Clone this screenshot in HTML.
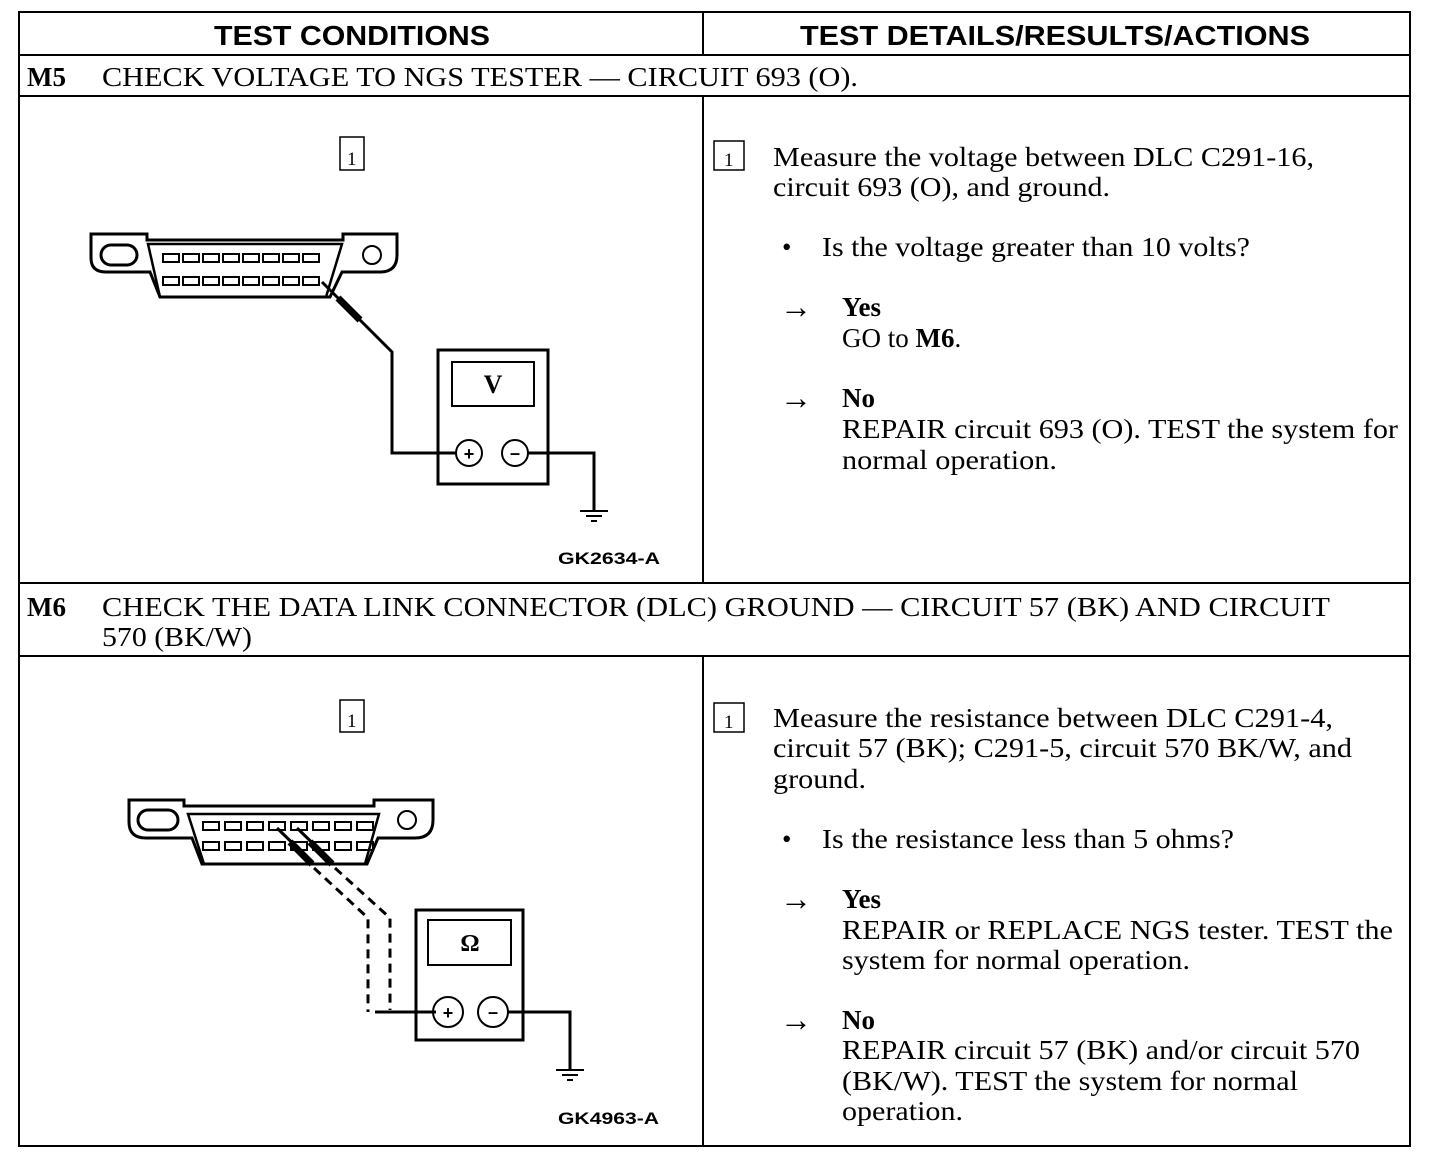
<!DOCTYPE html>
<html><head><style>body{margin:0;background:#fff}svg{display:block}</style></head><body>
<svg width="1440" height="1166" viewBox="0 0 1440 1166" xmlns="http://www.w3.org/2000/svg">
<g stroke="#000" fill="none" stroke-width="2">
<rect x="19" y="12" width="1391" height="1134"/>
<line x1="703" y1="12" x2="703" y2="55"/>
<line x1="703" y1="96" x2="703" y2="583"/>
<line x1="703" y1="656" x2="703" y2="1146"/>
<line x1="19" y1="55" x2="1410" y2="55"/>
<line x1="19" y1="96" x2="1410" y2="96"/>
<line x1="19" y1="583" x2="1410" y2="583"/>
<line x1="19" y1="656" x2="1410" y2="656"/>
<rect x="340" y="137" width="24" height="33" stroke-width="1.5"/>
<rect x="714" y="141" width="30" height="29" stroke-width="1.5"/>
<rect x="340" y="700" width="24" height="32" stroke-width="1.5"/>
<rect x="714" y="703" width="30" height="29" stroke-width="1.5"/>
</g>
<g font-family="Liberation Sans, sans-serif" font-weight="bold" font-size="28">
<text x="214" y="45" textLength="276" lengthAdjust="spacingAndGlyphs">TEST CONDITIONS</text>
<text x="800" y="45" textLength="510" lengthAdjust="spacingAndGlyphs">TEST DETAILS/RESULTS/ACTIONS</text>
<text x="558" y="564" font-size="17" textLength="102" lengthAdjust="spacingAndGlyphs">GK2634-A</text>
<text x="558" y="1124" font-size="17" textLength="101" lengthAdjust="spacingAndGlyphs">GK4963-A</text>
</g>
<g font-family="Liberation Serif, serif" font-size="27">
<text x="27" y="86" font-weight="bold">M5</text>
<text x="102" y="86" textLength="756" lengthAdjust="spacingAndGlyphs">CHECK VOLTAGE TO NGS TESTER — CIRCUIT 693 (O).</text>
<text x="27" y="616" font-weight="bold">M6</text>
<text x="102" y="616" textLength="1228" lengthAdjust="spacingAndGlyphs">CHECK THE DATA LINK CONNECTOR (DLC) GROUND — CIRCUIT 57 (BK) AND CIRCUIT</text>
<text x="102" y="646" textLength="150" lengthAdjust="spacingAndGlyphs">570 (BK/W)</text>
<text x="347" y="165" font-size="19">1</text>
<text x="724" y="166" font-size="19">1</text>
<text x="347" y="727" font-size="19">1</text>
<text x="724" y="728" font-size="19">1</text>
<text x="773" y="166" textLength="541" lengthAdjust="spacingAndGlyphs">Measure the voltage between DLC C291-16,</text>
<text x="773" y="196" textLength="337" lengthAdjust="spacingAndGlyphs">circuit 693 (O), and ground.</text>
<text x="782" y="256">•</text>
<text x="822" y="256" textLength="428" lengthAdjust="spacingAndGlyphs">Is the voltage greater than 10 volts?</text>
<text x="780" y="318" textLength="32" lengthAdjust="spacingAndGlyphs" font-size="34">→</text>
<text x="842" y="316" font-weight="bold">Yes</text>
<text x="842" y="347">GO to <tspan font-weight="bold">M6</tspan>.</text>
<text x="780" y="409" textLength="32" lengthAdjust="spacingAndGlyphs" font-size="34">→</text>
<text x="842" y="407" font-weight="bold">No</text>
<text x="842" y="438" textLength="556" lengthAdjust="spacingAndGlyphs">REPAIR circuit 693 (O). TEST the system for</text>
<text x="842" y="469" textLength="215" lengthAdjust="spacingAndGlyphs">normal operation.</text>
<text x="773" y="727" textLength="560" lengthAdjust="spacingAndGlyphs">Measure the resistance between DLC C291-4,</text>
<text x="773" y="757" textLength="579" lengthAdjust="spacingAndGlyphs">circuit 57 (BK); C291-5, circuit 570 BK/W, and</text>
<text x="773" y="788" textLength="93" lengthAdjust="spacingAndGlyphs">ground.</text>
<text x="782" y="848">•</text>
<text x="822" y="848" textLength="412" lengthAdjust="spacingAndGlyphs">Is the resistance less than 5 ohms?</text>
<text x="780" y="910" textLength="32" lengthAdjust="spacingAndGlyphs" font-size="34">→</text>
<text x="842" y="908" font-weight="bold">Yes</text>
<text x="842" y="939" textLength="551" lengthAdjust="spacingAndGlyphs">REPAIR or REPLACE NGS tester. TEST the</text>
<text x="842" y="969" textLength="348" lengthAdjust="spacingAndGlyphs">system for normal operation.</text>
<text x="780" y="1031" textLength="32" lengthAdjust="spacingAndGlyphs" font-size="34">→</text>
<text x="842" y="1029" font-weight="bold">No</text>
<text x="842" y="1059" textLength="518" lengthAdjust="spacingAndGlyphs">REPAIR circuit 57 (BK) and/or circuit 570</text>
<text x="842" y="1090" textLength="456" lengthAdjust="spacingAndGlyphs">(BK/W). TEST the system for normal</text>
<text x="842" y="1120" textLength="121" lengthAdjust="spacingAndGlyphs">operation.</text>
</g>
<!-- top connector -->
<g stroke="#000" fill="none" stroke-width="3">
<path d="M91,234 H147 V240 H343 V234 H397 V255 Q397,272 380,272 H342 L330,297 H160 L150,272 H106 Q91,272 91,258 Z"/>
<path d="M148,244 H342 L326,297 H160 Z" stroke-width="2.5"/>
<rect x="101" y="245" width="36" height="20" rx="10"/>
<circle cx="372" cy="255" r="9" stroke-width="2"/>
<g stroke-width="2">
<rect x="163" y="254" width="16" height="8"/><rect x="183" y="254" width="16" height="8"/><rect x="203" y="254" width="16" height="8"/><rect x="223" y="254" width="16" height="8"/><rect x="243" y="254" width="16" height="8"/><rect x="263" y="254" width="16" height="8"/><rect x="283" y="254" width="16" height="8"/><rect x="303" y="254" width="16" height="8"/>
<rect x="163" y="277" width="16" height="8"/><rect x="183" y="277" width="16" height="8"/><rect x="203" y="277" width="16" height="8"/><rect x="223" y="277" width="16" height="8"/><rect x="243" y="277" width="16" height="8"/><rect x="263" y="277" width="16" height="8"/><rect x="283" y="277" width="16" height="8"/><rect x="303" y="277" width="16" height="8"/>
</g>
<path d="M322,282 L392,352 V453 H456"/>
<path d="M338,298 L360,320" stroke-width="7"/>
<rect x="438" y="350" width="110" height="134"/>
<rect x="452" y="362" width="82" height="44" stroke-width="2"/>
<circle cx="469" cy="453" r="13" stroke-width="2"/>
<circle cx="515" cy="453" r="13" stroke-width="2"/>
<path d="M528,453 H594 V510"/>
<path d="M580,511 H608 M586,516 H602 M591,521 H597" stroke-width="2"/>
</g>
<text x="493" y="393" font-family="Liberation Serif, serif" font-weight="bold" font-size="26" text-anchor="middle">V</text>
<text x="469" y="460" font-family="Liberation Sans, sans-serif" font-weight="bold" font-size="18" text-anchor="middle">+</text>
<text x="515" y="459" font-family="Liberation Sans, sans-serif" font-weight="bold" font-size="18" text-anchor="middle">–</text>
<!-- bottom connector -->
<g stroke="#000" fill="none" stroke-width="3">
<path d="M129,800 H184 V806 H374 V800 H433 V820 Q433,838 415,838 H378 L367,864 H202 L192,838 H146 Q129,838 129,822 Z"/>
<path d="M188,814 H379 L365,864 H204 Z" stroke-width="2.5"/>
<rect x="138" y="810" width="40" height="20" rx="10"/>
<circle cx="407" cy="820" r="9" stroke-width="2"/>
<g stroke-width="2">
<rect x="203" y="822" width="16" height="8"/><rect x="225" y="822" width="16" height="8"/><rect x="247" y="822" width="16" height="8"/><rect x="269" y="822" width="16" height="8"/><rect x="291" y="822" width="16" height="8"/><rect x="313" y="822" width="16" height="8"/><rect x="335" y="822" width="16" height="8"/><rect x="357" y="822" width="16" height="8"/>
<rect x="203" y="842" width="16" height="8"/><rect x="225" y="842" width="16" height="8"/><rect x="247" y="842" width="16" height="8"/><rect x="269" y="842" width="16" height="8"/><rect x="291" y="842" width="16" height="8"/><rect x="313" y="842" width="16" height="8"/><rect x="335" y="842" width="16" height="8"/><rect x="357" y="842" width="16" height="8"/>
</g>
<path d="M277,828 L312,862 M297,828 L332,862"/>
<path d="M290,842 L312,864 M310,842 L332,864" stroke-width="7"/>
<path d="M314,868 L368,918 V1012 M335,868 L390,918 V1010" stroke-dasharray="9,6"/>
<path d="M375,1012 H436"/>
<rect x="416" y="910" width="107" height="130"/>
<rect x="428" y="920" width="83" height="45" stroke-width="2"/>
<circle cx="448" cy="1012" r="15" stroke-width="2"/>
<circle cx="493" cy="1012" r="15" stroke-width="2"/>
<path d="M508,1012 H570 V1070"/>
<path d="M556,1070 H584 M562,1075 H578 M567,1080 H573" stroke-width="2"/>
</g>
<text x="470" y="951" font-family="Liberation Serif, serif" font-weight="bold" font-size="24" text-anchor="middle">Ω</text>
<text x="448" y="1019" font-family="Liberation Sans, sans-serif" font-weight="bold" font-size="18" text-anchor="middle">+</text>
<text x="493" y="1018" font-family="Liberation Sans, sans-serif" font-weight="bold" font-size="18" text-anchor="middle">–</text>
</svg>
</body></html>
